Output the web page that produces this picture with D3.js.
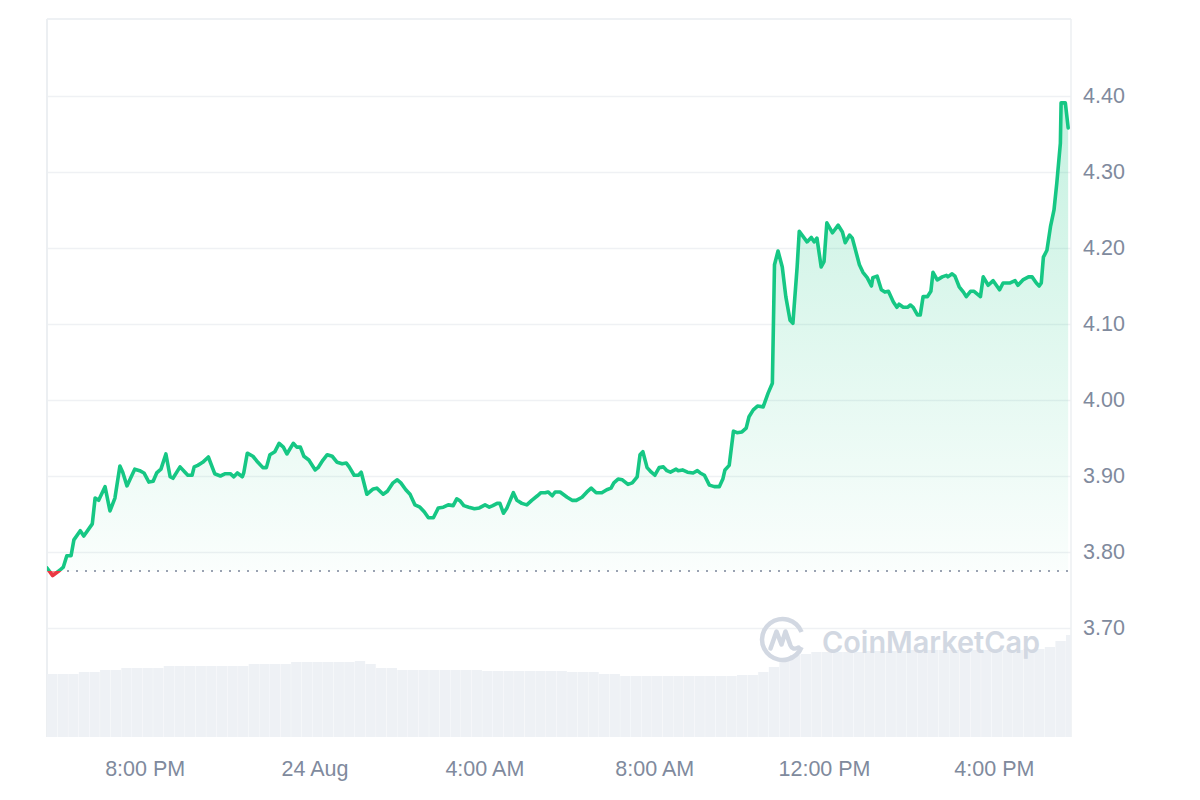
<!DOCTYPE html>
<html><head><meta charset="utf-8">
<script src="https://cdn.jsdelivr.net/npm/d3@7/dist/d3.min.js"></script>
<style>body{margin:0;background:#fff}svg{display:block}</style>
</head><body>
<svg id="chart" width="1200" height="800"></svg>
<script>
// ---- data ----
const startTime = new Date(2024, 7, 23, 17, 42);
const spanMinutes = 1447;
const openPrice = 3.775;

const priceMinutes = [0,8,18,23,28,34,38,47,52,64,68,73,82,89,96,103,107,113,120,124,131,137,144,150,155,161,168,174,178,188,195,199,205,208,213,220,228,237,245,252,259,264,269,276,278,283,291,298,305,310,315,322,328,334,339,348,353,358,363,370,379,383,390,396,403,410,417,423,427,434,440,444,452,461,466,475,481,489,495,500,507,513,520,527,533,539,546,553,560,567,574,579,584,589,596,604,611,619,625,630,636,640,645,650,659,664,671,678,685,693,698,704,708,714,718,725,735,742,748,756,763,769,776,784,791,797,801,807,813,821,827,834,838,842,848,854,859,865,871,876,881,889,892,898,905,913,919,923,929,936,943,950,955,958,964,970,975,982,988,992,998,1004,1012,1019,1025,1028,1033,1039,1044,1050,1054,1060,1063,1074,1080,1084,1088,1094,1098,1102,1110,1118,1124,1128,1134,1138,1148,1153,1159,1165,1167,1173,1179,1184,1189,1196,1201,1204,1210,1216,1220,1224,1230,1234,1238,1244,1249,1252,1258,1265,1271,1273,1279,1283,1289,1295,1299,1305,1310,1319,1323,1330,1337,1346,1351,1361,1368,1372,1379,1387,1392,1398,1402,1405,1408,1413,1418,1423,1427,1432,1433,1439,1443];

const prices = [3.779,3.769,3.776,3.780,3.795,3.795,3.816,3.828,3.821,3.837,
3.871,3.868,3.886,3.854,3.871,3.913,3.905,3.887,3.901,3.909,
3.907,3.904,3.892,3.893,3.904,3.909,3.929,3.899,3.897,3.912,
3.905,3.901,3.901,3.912,3.914,3.918,3.925,3.903,3.900,3.903,
3.903,3.899,3.904,3.899,3.904,3.930,3.926,3.918,3.911,3.911,
3.928,3.932,3.943,3.938,3.929,3.943,3.938,3.938,3.926,3.921,
3.908,3.911,3.921,3.928,3.926,3.918,3.916,3.917,3.912,3.901,
3.901,3.905,3.876,3.883,3.884,3.876,3.880,3.891,3.895,3.891,
3.882,3.876,3.862,3.859,3.853,3.845,3.845,3.858,3.859,3.862,
3.861,3.870,3.867,3.861,3.859,3.857,3.858,3.862,3.859,3.861,
3.864,3.864,3.851,3.858,3.878,3.868,3.864,3.862,3.868,3.874,
3.878,3.878,3.879,3.874,3.879,3.879,3.872,3.868,3.868,3.872,
3.879,3.884,3.878,3.878,3.882,3.884,3.891,3.896,3.895,3.889,
3.891,3.899,3.928,3.932,3.911,3.905,3.901,3.911,3.912,3.907,
3.905,3.909,3.907,3.908,3.905,3.904,3.907,3.904,3.901,3.888,
3.886,3.886,3.896,3.908,3.914,3.959,3.957,3.958,3.963,3.978,
3.987,3.992,3.991,4.009,4.022,4.178,4.196,4.175,4.136,4.105,
4.101,4.175,4.222,4.208,4.214,4.208,4.213,4.175,4.182,4.233,
4.220,4.230,4.221,4.207,4.217,4.213,4.178,4.168,4.161,4.150,
4.161,4.163,4.145,4.142,4.143,4.129,4.122,4.126,4.122,4.122,
4.125,4.122,4.112,4.112,4.136,4.136,4.143,4.168,4.158,4.162,
4.164,4.162,4.166,4.163,4.149,4.142,4.136,4.143,4.143,4.136,
4.162,4.151,4.157,4.145,4.154,4.154,4.157,4.151,4.158,4.162,
4.162,4.154,4.150,4.154,4.188,4.197,4.228,4.250,4.286,4.338,
4.391,4.391,4.358];

// volume (relative units) in 15-minute bins
const volumeBinMinutes = 15;
const volumes = [63,63,63,65,65,67,67,69,69,69,69,71,71,71,71,71,71,71,71,73,73,73,73,75,75,75,75,75,75,76,73,69,69,67,67,67,67,67,67,67,67,66,66,66,66,66,66,66,66,65,65,65,63,63,61,61,61,61,61,61,61,61,61,61,61,62,62,65,70,78,82,83,85,85,85,85,85,86,86,86,86,87,87,87,87,87,87,87,87,87,87,87,88,88,90,96,102];

const yTicks = [3.70, 3.80, 3.90, 4.00, 4.10, 4.20, 4.30, 4.40];
const xTickTimes = [new Date(2024,7,23,20,0), new Date(2024,7,24,0,0), new Date(2024,7,24,4,0), new Date(2024,7,24,8,0), new Date(2024,7,24,12,0), new Date(2024,7,24,16,0)];
const xTickLabels = ["8:00 PM", "24 Aug", "4:00 AM", "8:00 AM", "12:00 PM", "4:00 PM"];

// ---- drawing ----
const green = "#16c784", red = "#ea3943", grid = "#eff1f4", textCol = "#808a9d";
const L = 47, R = 1071, T = 19, B = 737;
const addMin = m => new Date(startTime.getTime() + m * 60000);

const svg = d3.select("#chart");
const x = d3.scaleTime().domain([startTime, addMin(spanMinutes)]).range([L, R]);
const y = d3.scaleLinear().domain([3.5566, 4.5013]).range([B, T]);
const vy = d3.scaleLinear().domain([0, 100]).range([B, B - 100]);

const n = Math.min(priceMinutes.length, prices.length);
const data = d3.range(n).map(i => ({t: addMin(priceMinutes[i]), p: prices[i]}));
const baseY = y(openPrice);

const defs = svg.append("defs");
defs.append("clipPath").attr("id", "plot").append("rect").attr("x", L).attr("y", T).attr("width", R - L).attr("height", B - T);
defs.append("clipPath").attr("id", "above").append("rect").attr("x", 0).attr("y", 0).attr("width", 1200).attr("height", baseY);
defs.append("clipPath").attr("id", "below").append("rect").attr("x", 0).attr("y", baseY).attr("width", 1200).attr("height", 800 - baseY);
const gG = defs.append("linearGradient").attr("id", "gfill").attr("gradientUnits", "userSpaceOnUse")
  .attr("x1", 0).attr("x2", 0).attr("y1", y(4.40)).attr("y2", baseY);
gG.append("stop").attr("offset", 0).attr("stop-color", green).attr("stop-opacity", 0.25);
gG.append("stop").attr("offset", 1).attr("stop-color", green).attr("stop-opacity", 0.02);

// frame + grid
svg.append("g").selectAll("line").data(yTicks).join("line")
  .attr("x1", L).attr("x2", R).attr("y1", d => Math.round(y(d)) + 0.5).attr("y2", d => Math.round(y(d)) + 0.5)
  .attr("stroke", grid).attr("stroke-width", 1.5);
svg.append("line").attr("x1", L).attr("x2", R).attr("y1", T).attr("y2", T).attr("stroke", "#e9ecf0").attr("stroke-width", 1.5);
svg.append("line").attr("x1", L).attr("x2", L).attr("y1", T).attr("y2", B).attr("stroke", "#eceff2").attr("stroke-width", 2);
svg.append("line").attr("x1", R).attr("x2", R).attr("y1", T).attr("y2", B).attr("stroke", "#eceff2").attr("stroke-width", 1.5);

// volume bars
const plot = svg.append("g").attr("clip-path", "url(#plot)");
plot.append("g").selectAll("rect").data(volumes).join("rect")
  .attr("x", (d, i) => x(addMin(i * volumeBinMinutes)))
  .attr("width", (d, i) => Math.max(0, x(addMin((i + 1) * volumeBinMinutes)) - x(addMin(i * volumeBinMinutes)) - 0.3))
  .attr("y", d => vy(d)).attr("height", d => B - vy(d))
  .attr("fill", "#eef1f5");

// watermark
const wm = svg.append("g").attr("fill", "none").attr("stroke", "#d2d8e2");
const cx = 782.5, cy = 639.5, r = 20.5;
const arc = d3.arc().innerRadius(r - 2.25).outerRadius(r + 2.25);
wm.append("path").attr("transform", `translate(${cx},${cy})`)
  .attr("d", arc({startAngle: Math.PI * 0.62, endAngle: Math.PI * 2.38}))
  .attr("fill", "#d2d8e2").attr("stroke", "none");
wm.append("path").attr("transform", `translate(${cx},${cy})`)
  .attr("d", "M-12,9 L-6,-8 L-1,5 L3,-8 L8,6 Q10,11 16,8")
  .attr("stroke-width", 4.5).attr("stroke-linecap", "round").attr("stroke-linejoin", "round");
svg.append("text").attr("x", 822).attr("y", 653)
  .attr("font-family", "Inter, 'Noto Sans', sans-serif").attr("font-weight", 600).attr("font-size", 30)
  .attr("textLength", 218).attr("lengthAdjust", "spacingAndGlyphs")
  .attr("fill", "#d2d8e2").text("CoinMarketCap");

// area fills
const area = d3.area().x(d => x(d.t)).y0(baseY).y1(d => y(d.p));
plot.append("path").datum(data).attr("d", area).attr("fill", "url(#gfill)").attr("clip-path", "url(#above)");
plot.append("path").datum(data).attr("d", area).attr("fill", red).attr("fill-opacity", 0.55).attr("clip-path", "url(#below)");

// baseline (open price)
svg.append("line").attr("x1", 58).attr("x2", R - 2).attr("y1", baseY).attr("y2", baseY)
  .attr("stroke", "#9aa2b2").attr("stroke-width", 2).attr("stroke-dasharray", "2,7");

// price line
const line = d3.line().x(d => x(d.t)).y(d => y(d.p));
const lineG = svg.append("g").attr("clip-path", "url(#plot)");
lineG.append("g").attr("clip-path", "url(#above)").append("path").datum(data).attr("d", line).attr("fill", "none").attr("stroke", green)
  .attr("stroke-width", 3.6).attr("stroke-linejoin", "round").attr("stroke-linecap", "round");
lineG.append("g").attr("clip-path", "url(#below)").append("path").datum(data).attr("d", line).attr("fill", "none").attr("stroke", red)
  .attr("stroke-width", 3.6).attr("stroke-linejoin", "round").attr("stroke-linecap", "round");

// axes
const font = "'Liberation Sans', Arial, sans-serif";
const yAxis = svg.append("g").attr("transform", `translate(${R},0)`)
  .call(d3.axisRight(y).tickValues(yTicks).tickFormat(d3.format(".2f")).tickSize(0).tickPadding(12));
const xAxis = svg.append("g").attr("transform", `translate(0,${B})`)
  .call(d3.axisBottom(x).tickValues(xTickTimes).tickFormat((d, i) => xTickLabels[i]).tickSize(0).tickPadding(24));
[yAxis, xAxis].forEach(g => {
  g.select(".domain").remove();
  g.selectAll("text").attr("font-family", font).attr("font-size", 21.5).attr("fill", textCol);
});
</script>
</body></html>
